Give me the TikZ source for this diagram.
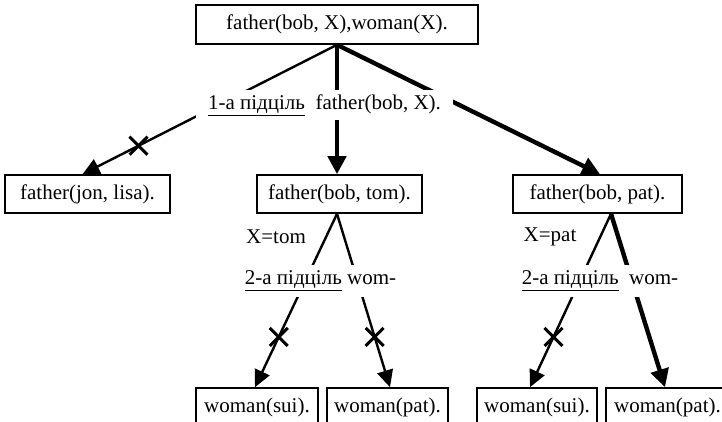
\documentclass[tikz,border=0pt]{standalone}
\usepackage{fontspec}
\setmainfont{Liberation Serif}
\usetikzlibrary{arrows.meta, shapes.misc}

\begin{document}
\begin{tikzpicture}[x=1pt, y=-1pt, every node/.style={font=\rmfamily\fontsize{21}{24}\selectfont, inner sep=0pt},
    goal/.style={draw, line width=1.6pt, minimum height=38pt},
    thinarc/.style={line width=2.4pt, -{Triangle[length=17pt, width=16pt]}},
    thickarc/.style={line width=4.4pt, -{Triangle[length=18pt, width=18pt]}},
    cutmark/.style={cross out, draw, line width=3pt, minimum size=15pt},
    gap/.style={fill=white}]

\useasboundingbox (0,0) rectangle (722,422);

\node[goal, minimum width=282pt, minimum height=39pt] (query) at (337,24.5) {father(bob, X),woman(X).};
\node[goal, minimum width=165pt] (jon) at (87.5,194) {father(jon, lisa).};
\node[goal, minimum width=165pt] (tom) at (339.5,194) {father(bob, tom).};
\node[goal, minimum width=169pt] (pat) at (597.5,194) {father(bob, pat).};
\node[goal, minimum width=122pt] (suitom) at (257,407) {woman(sui).};
\node[goal, minimum width=121pt] (pattom) at (387.5,407) {woman(pat).};
\node[goal, minimum width=120pt] (suipat) at (537,407) {woman(sui).};
\node[goal, minimum width=123pt] (patpat) at (667.5,407) {woman(pat).};

\draw[thinarc] (query.south) -- node[pos=0.78, cutmark] {} ([xshift=-5pt]jon.north);
\draw[thickarc] (query.south) -- ([xshift=-2.5pt]tom.north);
\draw[thickarc] (query.south) -- ([xshift=2.5pt]pat.north);
\draw[thinarc] ([xshift=-2.5pt]tom.south) -- node[pos=0.71, cutmark] {} ([xshift=-2pt]suitom.north);
\draw[thinarc] ([xshift=-2.5pt]tom.south) -- node[pos=0.71, cutmark] {} ([xshift=2.5pt]pattom.north);
\draw[thinarc] ([xshift=13.5pt]pat.south) -- node[pos=0.71, cutmark] {} ([xshift=-7pt]suipat.north);
\draw[thickarc] ([xshift=13.5pt]pat.south) -- ([xshift=-2.5pt]patpat.north);

\node[gap, minimum width=257pt, minimum height=30pt] (split1) at (324.5,105) {\underline{1-а підціль}\ \ father(bob, X).};
\node (bindtom) at (276,237) {X=tom};
\node[gap, minimum height=32pt] (split2) at (320.5,281) {\underline{2-а підціль} wom-};
\node (bindpat) at (550,237) {X=pat};
\node[gap, minimum height=32pt] (split3) at (600,281) {\underline{2-а підціль}\ \ wom-};
\end{tikzpicture}
\end{document}
